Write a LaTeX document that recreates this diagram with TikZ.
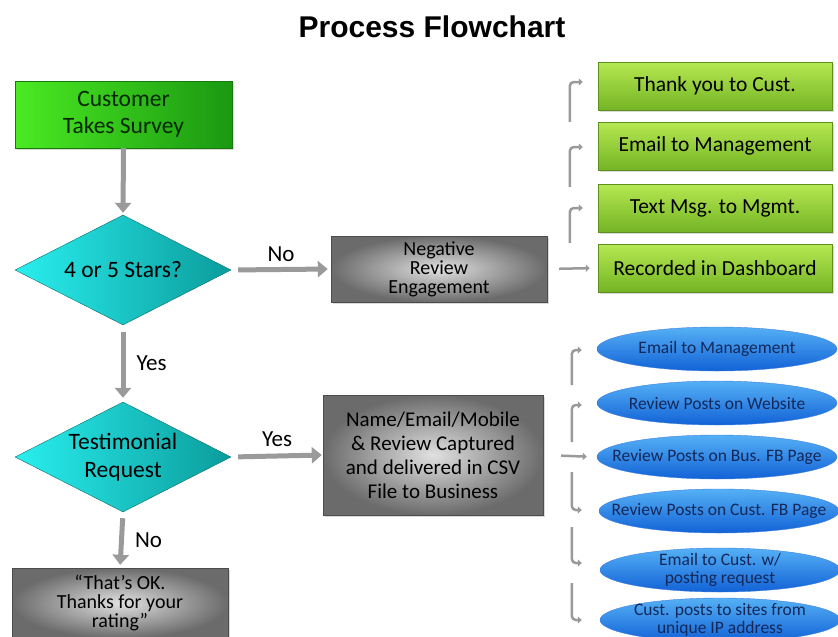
\documentclass[tikz,border=0pt]{standalone}
\usepackage{fontspec}
\setmainfont{Carlito}
\newfontfamily\titlefont{Liberation Sans}
\usepackage{tikz}
\usetikzlibrary{arrows.meta,shapes.geometric,shadows,positioning}
\definecolor{surveyLight}{HTML}{4BEA22}
\definecolor{surveyDark}{HTML}{1A9812}
\definecolor{askLight}{HTML}{2AEEEE}
\definecolor{askDark}{HTML}{0B9C9C}
\definecolor{limeLight}{HTML}{B6E852}
\definecolor{limeDark}{HTML}{74B424}
\definecolor{postLight}{HTML}{55B0F5}
\definecolor{postDark}{HTML}{1262D6}
\definecolor{postText}{HTML}{14285A}
\definecolor{arrowGray}{HTML}{9A9A9A}

\begin{document}
\begin{tikzpicture}[x=1pt, y=-1pt,
  every node/.style={font=\fontsize{21}{24}\selectfont},
  shadowed/.style={drop shadow={shadow xshift=2pt, shadow yshift=-2pt, opacity=.3}},
  surveybox/.style={shadowed, draw=surveyDark!80!black, left color=surveyLight,
             right color=surveyDark, text=black!85!green, align=center,
             minimum width=217pt, minimum height=67pt, inner sep=2pt,
             font=\fontsize{23.5}{27}\selectfont},
  askbox/.style={diamond, draw=askDark!70!black, left color=askLight,
             right color=askDark, align=center, aspect=2, inner sep=0pt,
             minimum width=216pt, minimum height=110pt,
             font=\fontsize{23.5}{28}\selectfont},
  metalbox/.style={shadowed, draw=black!70, inner color=black!12, outer color=black!58,
             align=center, inner sep=2pt},
  limebox/.style={shadowed, draw=limeDark!80!black, top color=limeLight,
             bottom color=limeDark, align=center,
             minimum width=234pt, minimum height=48pt, inner sep=2pt,
             font=\fontsize{21.5}{24}\selectfont},
  postbubble/.style={ellipse, draw=postDark!80!white, top color=postLight,
             bottom color=postDark, text=postText, align=center,
             minimum width=240pt, minimum height=44pt,
             inner xsep=-40pt, inner ysep=-6pt,
             font=\fontsize{17.5}{18}\selectfont},
  flow/.style={-{Triangle[length=10pt, width=16pt]}, line width=5pt, draw=arrowGray},
  elbow/.style={-{Triangle[length=4pt, width=7pt]}, line width=2.5pt,
             draw=arrowGray, rounded corners=4pt},
  answer/.style={font=\fontsize{23}{26}\selectfont, inner sep=4pt},
]
\useasboundingbox (0,0) rectangle (838,637);

% Title
\node[font=\titlefont\bfseries\fontsize{30}{34}\selectfont] (title) at (432,27) {Process Flowchart};

% Main column
\node[surveybox] (survey) at (123.5,114.5) {Customer\\Takes Survey};
\node[askbox] (stars) at (123,270) {4 or 5 Stars?};
\node[askbox] (testi) at (123,457) {Testimonial\\Request};
\node[metalbox, minimum width=216pt, minimum height=70pt,
      font=\fontsize{20}{19}\selectfont] (okbox) at (120,603)
      {``That’s OK.\\Thanks for your\\rating''};

% Middle column
\node[metalbox, minimum width=216pt, minimum height=66pt,
      font=\fontsize{20}{19}\selectfont] (negbox) at (439,269)
      {Negative\\Review\\Engagement};
\node[metalbox, minimum width=220pt, minimum height=120pt,
      font=\fontsize{21}{24}\selectfont] (namebox) at (433,455)
      {Name/Email/Mobile\\\& Review Captured\\and delivered in CSV\\File to Business};

% Negative review actions
\node[limebox] (thank) at (715,86) {Thank you to Cust.};
\node[limebox] (mgmtmail) at (715,146) {Email to Management};
\node[limebox] (textmsg) at (715,208) {Text Msg. to Mgmt.};
\node[limebox] (dashboard) at (715,268) {Recorded in Dashboard};

% Testimonial actions
\node[postbubble] (mail) at (717,349) {Email to Management};
\node[postbubble] (website) at (717,403) {Review Posts on Website};
\node[postbubble] (busfb) at (717,457) {Review Posts on Bus. FB Page};
\node[postbubble] (custfb) at (719,511) {Review Posts on Cust. FB Page};
\node[postbubble] (custmail) at (720,570) {Email to Cust. w/\\posting request};
\node[postbubble] (sites) at (720,620) {Cust. posts to sites from\\unique IP address};

% Main flow
\draw[flow, shorten >=2pt] (survey.south) -- (stars.north);
\draw[flow, shorten <=7pt, shorten >=3pt] (stars.east) -- (negbox.west)
  node[answer, midway, above=1pt] {No};
\draw[flow, shorten <=7pt, shorten >=4pt] (stars.south) -- (testi.north)
  node[answer, midway, right=7pt] {Yes};
\draw[flow, shorten <=7pt, shorten >=1pt] (testi.east) -- (namebox.west)
  node[answer, midway, above=3pt] {Yes};
\draw[flow, shorten <=6pt, shorten >=3pt] (testi.south) -- (okbox.north)
  node[answer, midway, right=7pt] {No};

% Fan out to the actions
\draw[elbow, shorten <=12pt, shorten >=8pt] (negbox.east) -- (dashboard.west);
\draw[elbow] ([xshift=-28pt, yshift=1pt]dashboard.north west) |- ([xshift=-15pt]textmsg.west);
\draw[elbow] ([xshift=-28pt, yshift=-3pt]textmsg.north west) |- ([xshift=-15pt, yshift=-1pt]mgmtmail.west);
\draw[elbow] ([xshift=-28pt]mgmtmail.north west) |- ([xshift=-15pt, yshift=4pt]thank.west);

\draw[elbow, shorten <=18pt, shorten >=10pt] (namebox.east) -- (busfb.west);
\draw[elbow] ([xshift=-25pt, yshift=15pt]busfb.west) |- ([xshift=-15pt, yshift=-2pt]website.west);
\draw[elbow] ([xshift=-25pt, yshift=18pt]website.west) |- ([xshift=-15pt, yshift=-1pt]mail.west);
\draw[elbow] ([xshift=-25pt, yshift=-15pt]busfb.west) |- ([xshift=-17pt, yshift=1pt]custfb.west);
\draw[elbow] ([xshift=-27pt, yshift=-16pt]custfb.west) |- ([xshift=-18pt, yshift=7pt]custmail.west);
\draw[elbow] ([xshift=-28pt, yshift=-13pt]custmail.west) |- ([xshift=-18pt]sites.west);

\end{tikzpicture}
\end{document}
